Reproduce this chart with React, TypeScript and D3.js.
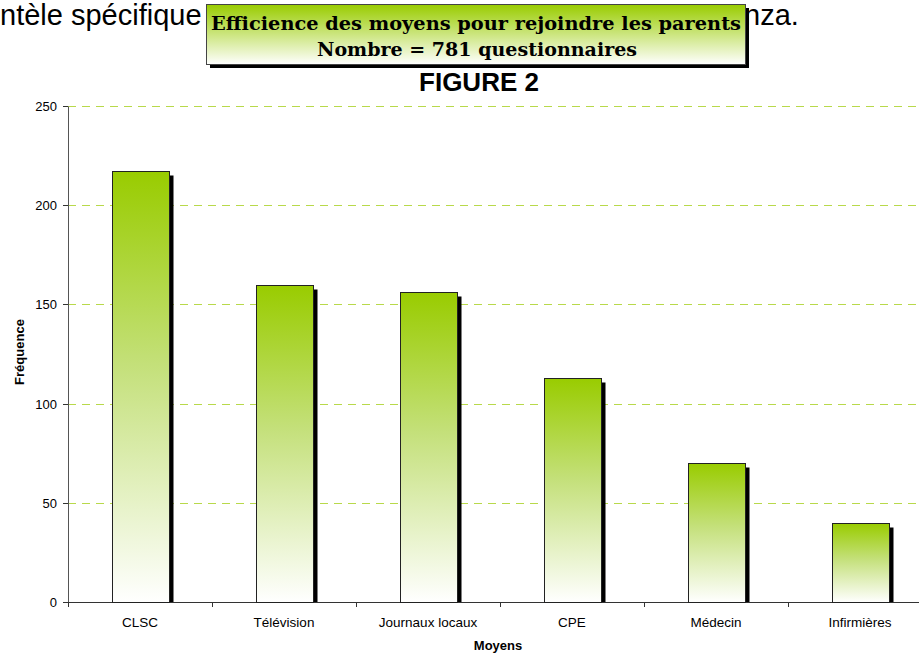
import React from "react";
import * as d3 from "d3";

const categories = ["CLSC", "Télévision", "Journaux locaux", "CPE", "Médecin", "Infirmières"];
const values = [217, 160, 156, 113, 70, 40];
const yTicks = [0, 50, 100, 150, 200, 250];
const titleLines = ["Efficience des moyens pour rejoindre les parents", "Nombre = 781 questionnaires"];
const figureLabel = "FIGURE 2";
const xTitle = "Moyens";
const yTitle = "Fréquence";
const pageTextLeft = "ntèle spécifique";
const pageTextRight = "nza.";

const W = 919, H = 655;
const left = 68, top = 106, bottom = 602;
const bandW = 144;

export default function App() {
  const xb = d3.scaleBand<string>().domain(categories).range([left, left + bandW * categories.length]);
  const y = d3.scaleLinear().domain([0, 250]).range([bottom, top]);
  const py = (t: number) => Math.round(y(t)) + 0.5;
  const bw = 57;
  return (
    <svg width={W} height={H} style={{ position: "absolute", left: 0, top: 0, background: "#fff" }} fontFamily="Arial, Liberation Sans, sans-serif">
      <defs>
        <linearGradient id="barGrad" x1="0" y1="0" x2="0" y2="1">
          <stop offset="0" stopColor="#99cc00" />
          <stop offset="0.45" stopColor="#c4e07a" />
          <stop offset="1" stopColor="#ffffff" />
        </linearGradient>
        <linearGradient id="boxGrad" x1="0" y1="0" x2="0" y2="1">
          <stop offset="0" stopColor="#99cc00" />
          <stop offset="1" stopColor="#ffffff" />
        </linearGradient>
      </defs>
      {/* background page text */}
      <text x={0} y={25} fontSize={29} fill="#000">{pageTextLeft}</text>
      <text x={744} y={25} fontSize={29} fill="#000">{pageTextRight}</text>
      {/* gridlines */}
      {yTicks.filter(t => t > 0).map(t => (
        <line key={t} x1={left} x2={W} y1={py(t)} y2={py(t)} stroke="#b8d94a" strokeWidth={1} strokeDasharray="8,6" />
      ))}
      {/* axes */}
      <line x1={left + 0.5} x2={left + 0.5} y1={py(250)} y2={py(0)} stroke="#555" />
      <line x1={left} x2={W} y1={py(0)} y2={py(0)} stroke="#333" />
      {yTicks.map(t => (
        <g key={t}>
          <line x1={left - 5} x2={left} y1={py(t)} y2={py(t)} stroke="#333" />
          <text x={left - 11} y={y(t) + 5} fontSize={13} textAnchor="end">{t}</text>
        </g>
      ))}
      {categories.map((c) => (
        <line key={c} x1={xb(c)! + 0.5} x2={xb(c)! + 0.5} y1={bottom} y2={bottom + 5} stroke="#333" />
      ))}
      {/* bars */}
      {categories.map((c, i) => {
        const cx = xb(c)! + xb.bandwidth() / 2;
        const x0 = Math.round(cx - bw / 2) + 0.5;
        const yt = Math.round(y(values[i])) + 0.5;
        return (
          <g key={c}>
            <rect x={x0 + 4} y={yt + 4} width={bw} height={bottom - yt - 4} fill="#000" />
            <rect x={x0} y={yt} width={bw} height={bottom + 0.5 - yt} fill="url(#barGrad)" stroke="#222" strokeWidth={1} />
            <text x={cx} y={627} fontSize={13.5} textAnchor="middle">{c}</text>
          </g>
        );
      })}
      <text x={498} y={650} fontSize={13} fontWeight="bold" textAnchor="middle">{xTitle}</text>
      <text transform={`translate(24,352) rotate(-90)`} fontSize={13} fontWeight="bold" textAnchor="middle">{yTitle}</text>
      {/* title box */}
      <rect x={210} y={8} width={539} height={60} fill="#000" />
      <rect x={206.5} y={4.5} width={539} height={60} fill="url(#boxGrad)" stroke="#444" strokeWidth={1} />
      <text x={476} y={30} fontSize={19} fontWeight="bold" fontFamily="DejaVu Serif, serif" textAnchor="middle" textLength={530} lengthAdjust="spacingAndGlyphs">{titleLines[0]}</text>
      <text x={477} y={56} fontSize={19} fontWeight="bold" fontFamily="DejaVu Serif, serif" textAnchor="middle" textLength={320} lengthAdjust="spacingAndGlyphs">{titleLines[1]}</text>
      <text x={479} y={91} fontSize={26} fontWeight="bold" textAnchor="middle">{figureLabel}</text>
    </svg>
  );
}
